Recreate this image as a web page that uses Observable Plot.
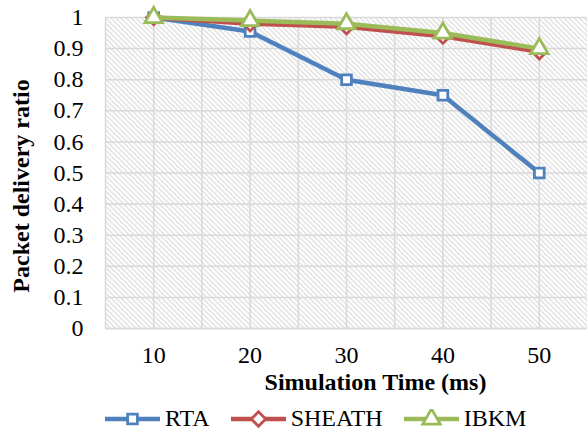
<!DOCTYPE html>
<html>
<head>
<meta charset="utf-8">
<script src="https://cdn.jsdelivr.net/npm/d3@7"></script>
<script src="https://cdn.jsdelivr.net/npm/@observablehq/plot@0.6"></script>
<style>
  body { margin: 0; background: #fff; font-family: "Liberation Serif", "Times New Roman", serif; }
  #chart { width: 587px; height: 434px; overflow: hidden; }
  .legend { display: flex; align-items: center; padding-left: 105px; gap: 21px; height: 39px; margin-top: 4px; font-size: 24px; color: #000; }
  .legend .item { display: flex; align-items: center; gap: 5px; }
</style>
</head>
<body>
<div id="chart"></div>
<script>
const times = [10, 20, 30, 40, 50];
const seriesNames = ["RTA", "SHEATH", "IBKM"];
const rta = [1, 0.955, 0.80, 0.75, 0.50];
const sheath = [1, 0.98, 0.97, 0.94, 0.89];
const ibkm = [1, 0.99, 0.98, 0.95, 0.90];
const yTicks = [0, 0.1, 0.2, 0.3, 0.4, 0.5, 0.6, 0.7, 0.8, 0.9, 1];
const xGrid = [5, 10, 15, 20, 25, 30, 35, 40, 45, 50, 55];
const colors = ["#4F81BD", "#C0504D", "#9BBB59"];
const symbols = ["square", "diamond2", "triangle"];
const xLabel = "Simulation Time (ms)";
const yLabel = "Packet delivery ratio";

const values = [rta, sheath, ibkm];
const data = [];
seriesNames.forEach((s, i) => times.forEach((t, j) => data.push({series: s, time: t, value: values[i][j]})));

const radii = [5.5, 6.5, 6.5];
const font = "Liberation Serif, Times New Roman, serif";
const marks = [
  Plot.frame({fill: "white"}),
  Plot.frame({fill: "url(#hatch)"}),
  Plot.gridX(xGrid, {stroke: "#d9d9d9", strokeOpacity: 1, strokeWidth: 1.5}),
  Plot.gridY(yTicks, {stroke: "#d9d9d9", strokeOpacity: 1, strokeWidth: 1.5}),
  Plot.ruleY([0], {stroke: "#d9d9d9", strokeWidth: 1.5}),
  Plot.text(times, {x: d => d, frameAnchor: "bottom", text: d => String(d), textAnchor: "middle", lineAnchor: "middle", dy: 27, fontSize: 24}),
  Plot.text(yTicks, {y: d => d, frameAnchor: "left", text: d => String(+d.toFixed(1)), textAnchor: "end", lineAnchor: "middle", dx: -22, fontSize: 24}),
];
seriesNames.forEach((s, i) => {
  const sub = data.filter(d => d.series === s);
  marks.push(Plot.line(sub, {x: "time", y: "value", stroke: colors[i], strokeWidth: 4.5}));
  marks.push(Plot.dot(sub, {x: "time", y: "value", symbol: () => symbols[i], r: radii[i], fill: "white", stroke: colors[i], strokeWidth: 2.8}));
});
marks.push(Plot.text([xLabel], {frameAnchor: "bottom", text: d => d, textAnchor: "middle", lineAnchor: "middle", dx: 29, dy: 54, fontSize: 24, fontWeight: "bold"}));
marks.push(Plot.text([yLabel], {frameAnchor: "left", text: d => d, textAnchor: "middle", lineAnchor: "middle", rotate: -90, dx: -84, dy: 13, fontSize: 24, fontWeight: "bold"}));

const plot = Plot.plot({
  width: 587,
  height: 395,
  marginLeft: 105,
  marginRight: 0,
  marginTop: 17,
  marginBottom: 67,
  style: {fontFamily: font, fontSize: "24px", color: "#000", background: "white", overflow: "visible"},
  x: {type: "linear", domain: [5, 55], axis: null},
  y: {domain: [0, 1], axis: null},
  symbol: {type: "identity"},
  marks
});

const ns = "http://www.w3.org/2000/svg";
const defs = document.createElementNS(ns, "defs");
defs.innerHTML = `<pattern id="hatch" patternUnits="userSpaceOnUse" width="3.6" height="3.6" patternTransform="rotate(-45)"><rect width="3.6" height="3.6" fill="white"/><line x1="0.8" y1="0" x2="0.8" y2="3.6" stroke="#dadada" stroke-width="1.2"/></pattern>`;
plot.insertBefore(defs, plot.firstChild);
document.getElementById("chart").appendChild(plot);

// legend
const legend = document.createElement("div");
legend.className = "legend";
seriesNames.forEach((s, i) => {
  const item = document.createElement("div");
  item.className = "item";
  const sw = d3.create("svg").attr("width", 55).attr("height", 20);
  sw.append("line").attr("x1", 0).attr("x2", 55).attr("y1", 10).attr("y2", 10).attr("stroke", colors[i]).attr("stroke-width", 4.5);
  const symMap = {square: d3.symbolSquare, diamond2: d3.symbolDiamond2, triangle: d3.symbolTriangle};
  const r = radii[i];
  sw.append("path").attr("transform", "translate(27.5,10)").attr("d", d3.symbol(symMap[symbols[i]], Math.PI * r * r)())
    .attr("fill", "white").attr("stroke", colors[i]).attr("stroke-width", 2.8);
  item.appendChild(sw.node());
  const label = document.createElement("span");
  label.textContent = s;
  item.appendChild(label);
  legend.appendChild(item);
});
document.getElementById("chart").appendChild(legend);
</script>
</body>
</html>
